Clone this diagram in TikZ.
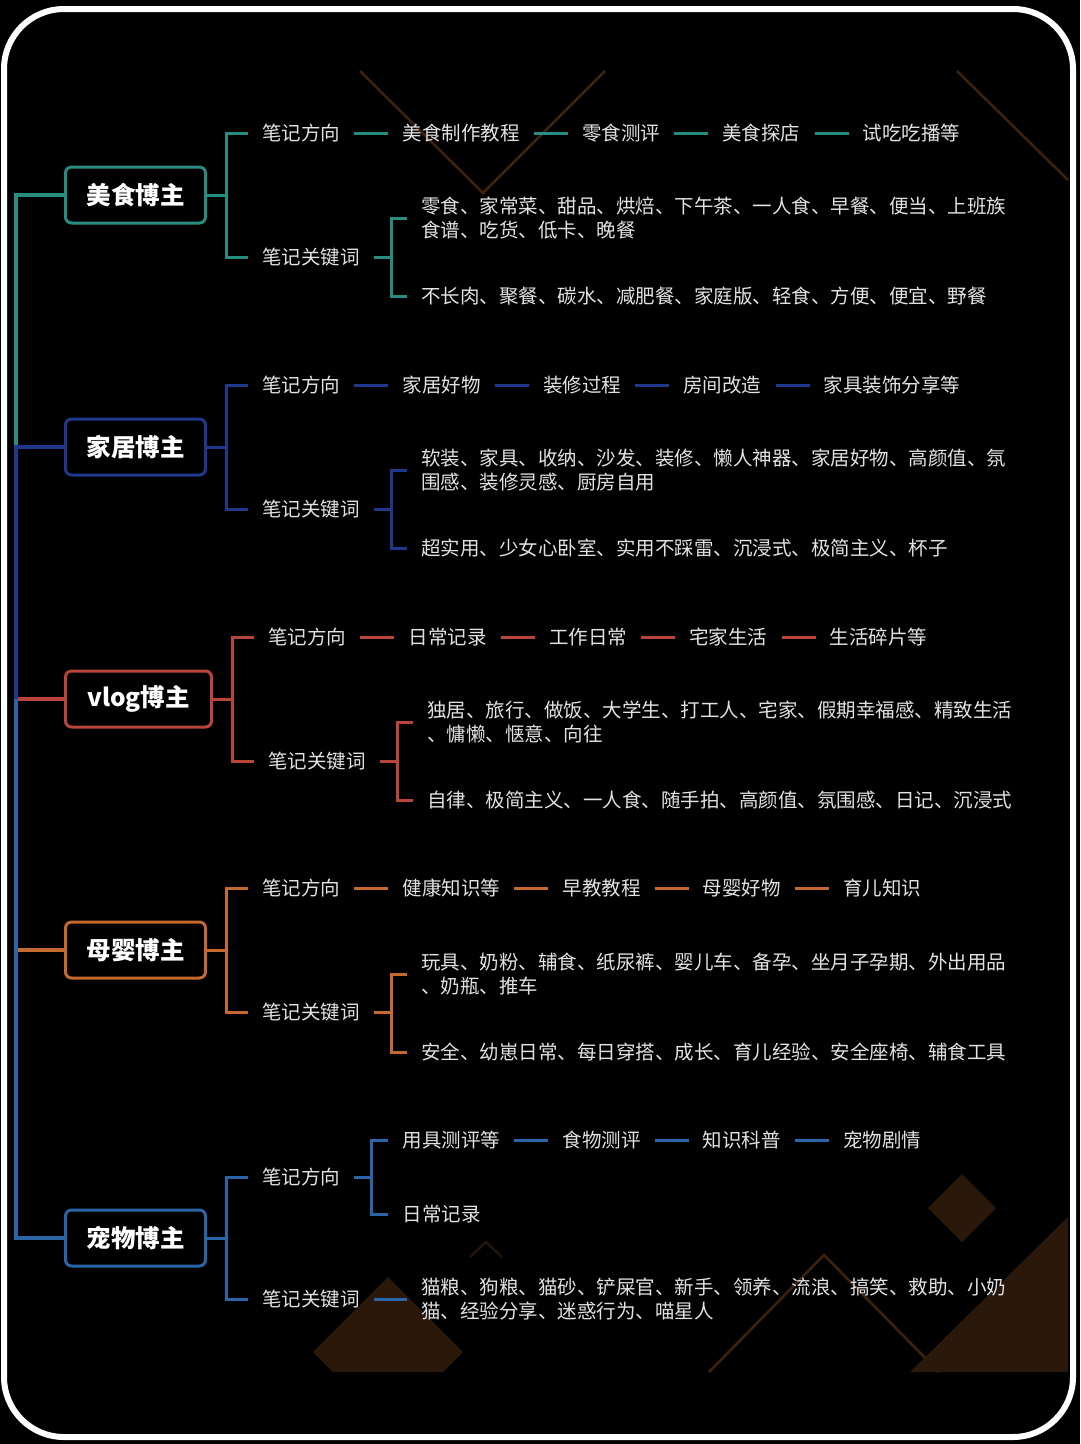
\documentclass[tikz,border=0pt]{standalone}
\usepackage{fontspec}
\setmainfont{Noto Sans CJK SC}
\usetikzlibrary{positioning}
\definecolor{cteal}{HTML}{278D80}
\definecolor{cnavy}{HTML}{1F388C}
\definecolor{cred}{HTML}{B8443A}
\definecolor{corange}{HTML}{C6692E}
\definecolor{cblue}{HTML}{2A65A8}
\definecolor{txt}{HTML}{E2E2E2}
\definecolor{decoline}{HTML}{3E220C}
\definecolor{decofaint}{HTML}{22140A}
\definecolor{decofill}{HTML}{2A180A}

\begin{document}
\begin{tikzpicture}[x=1pt,y=-1pt,
  topic/.style={draw=#1, line width=3pt, rounded corners=6pt, anchor=west,
    minimum height=56pt, minimum width=140pt, inner xsep=21pt, text=white,
    font=\fontsize{24.5}{28}\selectfont\bfseries},
  item/.style={anchor=west, inner xsep=14pt, inner ysep=0pt, text=txt,
    align=left, font=\fontsize{19.5}{24}\selectfont},
  link/.style={draw=#1, line width=3pt},
  deco/.style={draw=decoline, line width=2.5pt},
]
\useasboundingbox (0,0) rectangle (1080,1444);
\fill[black] (0,0) rectangle (1080,1444);
\draw[white, line width=6pt, rounded corners=60pt] (4,9) rectangle (1073,1437);

\draw[deco] (360,71) -- (483,193) -- (605,71);
\draw[deco] (957,71) -- (1068,180);
\draw[deco] (709,1372) -- (824,1255) -- (939,1372);
\draw[deco, draw=decofaint] (470,1257) -- (486,1242) -- (502,1257);
\fill[decofill] (388,1277) -- (313,1352) -- (333,1372) -- (443,1372) -- (463,1352) -- cycle;
\fill[decofill] (962,1174) -- (996,1208) -- (962,1242) -- (928,1208) -- cycle;
\fill[decofill] (910,1372) -- (1068,1217) -- (1068,1372) -- cycle;

\coordinate (s1) at (16,195);
\coordinate (s2) at (16,447);
\coordinate (s3) at (16,699);
\coordinate (s4) at (16,950);
\coordinate (s5) at (16,1238);

\node[topic=cteal] (m1) at (64,195) {美食博主};
\node[topic=cnavy] (m2) at (64,447) {家居博主};
\node[topic=cred, minimum width=146pt] (m3) at (64,699) {vlog博主};
\node[topic=corange] (m4) at (64,950) {母婴博主};
\node[topic=cblue] (m5) at (64,1238) {宠物博主};

\draw[link=cred, line width=4pt] (m3.west) -- (s3);
\draw[link=corange, line width=4pt] (m4.west) -- (s4);
\draw[link=cteal, line width=4pt] (m1.west) -- (s1) -- (s2);
\draw[link=cnavy, line width=4pt] (m2.west) -- (s2) -- (s3);
\draw[link=cblue, line width=4pt] (s3) -- (s5) -- (m5.west);

% 美食博主
\node[item] (d1) at ([xshift=41pt,yshift=62pt]m1.east) {笔记方向};
\node[item, right=34pt of d1] (d1a) {美食制作教程};
\node[item, right=34pt of d1a] (d1b) {零食测评};
\node[item, right=34pt of d1b] (d1c) {美食探店};
\node[item, right=34pt of d1c] (d1d) {试吃吃播等};
\node[item] (k1) at ([xshift=41pt,yshift=-62pt]m1.east) {笔记关键词};
\node[item] (k1a) at ([xshift=33pt,yshift=39pt]k1.east) {零食、家常菜、甜品、烘焙、下午茶、一人食、早餐、便当、上班族\\食谱、吃货、低卡、晚餐};
\node[item] (k1b) at ([xshift=33pt,yshift=-39pt]k1.east) {不长肉、聚餐、碳水、减肥餐、家庭版、轻食、方便、便宜、野餐};
\coordinate (b1) at ([xshift=19pt]m1.east);
\coordinate (c1) at ([xshift=17.5pt]k1.east);
\draw[link=cteal] (m1.east) -- (b1) (d1.west) -| (b1) |- (k1.west);
\draw[link=cteal] (k1.east) -- (c1) (k1a.west) -| (c1) |- (k1b.west);
\draw[link=cteal] (d1.east) -- (d1a.west) (d1a.east) -- (d1b.west)
  (d1b.east) -- (d1c.west) (d1c.east) -- (d1d.west);

% 家居博主
\node[item] (d2) at ([xshift=41pt,yshift=62pt]m2.east) {笔记方向};
\node[item, right=34pt of d2] (d2a) {家居好物};
\node[item, right=34pt of d2a] (d2b) {装修过程};
\node[item, right=34pt of d2b] (d2c) {房间改造};
\node[item, right=34pt of d2c] (d2d) {家具装饰分享等};
\node[item] (k2) at ([xshift=41pt,yshift=-62pt]m2.east) {笔记关键词};
\node[item] (k2a) at ([xshift=33pt,yshift=39pt]k2.east) {软装、家具、收纳、沙发、装修、懒人神器、家居好物、高颜值、氛\\围感、装修灵感、厨房自用};
\node[item] (k2b) at ([xshift=33pt,yshift=-39pt]k2.east) {超实用、少女心卧室、实用不踩雷、沉浸式、极简主义、杯子};
\coordinate (b2) at ([xshift=19pt]m2.east);
\coordinate (c2) at ([xshift=17.5pt]k2.east);
\draw[link=cnavy] (m2.east) -- (b2) (d2.west) -| (b2) |- (k2.west);
\draw[link=cnavy] (k2.east) -- (c2) (k2a.west) -| (c2) |- (k2b.west);
\draw[link=cnavy] (d2.east) -- (d2a.west) (d2a.east) -- (d2b.west)
  (d2b.east) -- (d2c.west) (d2c.east) -- (d2d.west);

% vlog博主
\node[item] (d3) at ([xshift=41pt,yshift=62pt]m3.east) {笔记方向};
\node[item, right=34pt of d3] (d3a) {日常记录};
\node[item, right=34pt of d3a] (d3b) {工作日常};
\node[item, right=34pt of d3b] (d3c) {宅家生活};
\node[item, right=34pt of d3c] (d3d) {生活碎片等};
\node[item] (k3) at ([xshift=41pt,yshift=-62pt]m3.east) {笔记关键词};
\node[item] (k3a) at ([xshift=33pt,yshift=39pt]k3.east) {独居、旅行、做饭、大学生、打工人、宅家、假期幸福感、精致生活\\、慵懒、惬意、向往};
\node[item] (k3b) at ([xshift=33pt,yshift=-39pt]k3.east) {自律、极简主义、一人食、随手拍、高颜值、氛围感、日记、沉浸式};
\coordinate (b3) at ([xshift=19pt]m3.east);
\coordinate (c3) at ([xshift=17.5pt]k3.east);
\draw[link=cred] (m3.east) -- (b3) (d3.west) -| (b3) |- (k3.west);
\draw[link=cred] (k3.east) -- (c3) (k3a.west) -| (c3) |- (k3b.west);
\draw[link=cred] (d3.east) -- (d3a.west) (d3a.east) -- (d3b.west)
  (d3b.east) -- (d3c.west) (d3c.east) -- (d3d.west);

% 母婴博主
\node[item] (d4) at ([xshift=41pt,yshift=62pt]m4.east) {笔记方向};
\node[item, right=34pt of d4] (d4a) {健康知识等};
\node[item, right=34pt of d4a] (d4b) {早教教程};
\node[item, right=34pt of d4b] (d4c) {母婴好物};
\node[item, right=34pt of d4c] (d4d) {育儿知识};
\node[item] (k4) at ([xshift=41pt,yshift=-62pt]m4.east) {笔记关键词};
\node[item] (k4a) at ([xshift=33pt,yshift=38pt]k4.east) {玩具、奶粉、辅食、纸尿裤、婴儿车、备孕、坐月子孕期、外出用品\\、奶瓶、推车};
\node[item] (k4b) at ([xshift=33pt,yshift=-40pt]k4.east) {安全、幼崽日常、每日穿搭、成长、育儿经验、安全座椅、辅食工具};
\coordinate (b4) at ([xshift=19pt]m4.east);
\coordinate (c4) at ([xshift=17.5pt]k4.east);
\draw[link=corange] (m4.east) -- (b4) (d4.west) -| (b4) |- (k4.west);
\draw[link=corange] (k4.east) -- (c4) (k4a.west) -| (c4) |- (k4b.west);
\draw[link=corange] (d4.east) -- (d4a.west) (d4a.east) -- (d4b.west)
  (d4b.east) -- (d4c.west) (d4c.east) -- (d4d.west);

% 宠物博主
\node[item] (d5) at ([xshift=41pt,yshift=61pt]m5.east) {笔记方向};
\node[item] (d5a) at ([xshift=34pt,yshift=37pt]d5.east) {用具测评等};
\node[item, right=34pt of d5a] (d5b) {食物测评};
\node[item, right=34pt of d5b] (d5c) {知识科普};
\node[item, right=34pt of d5c] (d5d) {宠物剧情};
\node[item] (d5e) at ([xshift=34pt,yshift=-37pt]d5.east) {日常记录};
\node[item] (k5) at ([xshift=41pt,yshift=-61pt]m5.east) {笔记关键词};
\node[item] (k5a) at ([xshift=33pt]k5.east) {猫粮、狗粮、猫砂、铲屎官、新手、领养、流浪、搞笑、救助、小奶\\猫、经验分享、迷惑行为、喵星人};
\coordinate (b5) at ([xshift=19pt]m5.east);
\coordinate (c5) at ([xshift=17.5pt]d5.east);
\draw[link=cblue] (m5.east) -- (b5) (d5.west) -| (b5) |- (k5.west);
\draw[link=cblue] (d5.east) -- (c5) (d5a.west) -| (c5) |- (d5e.west);
\draw[link=cblue] (k5.east) -- (k5a.west);
\draw[link=cblue] (d5a.east) -- (d5b.west) (d5b.east) -- (d5c.west)
  (d5c.east) -- (d5d.west);
\end{tikzpicture}
\end{document}
